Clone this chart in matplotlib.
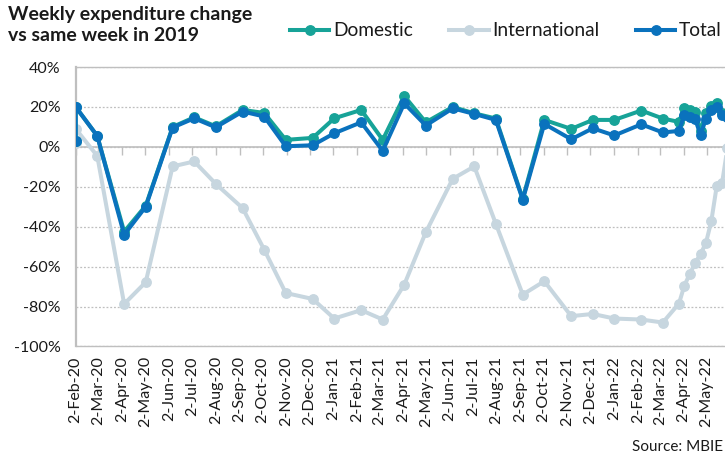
import matplotlib.pyplot as plt
import matplotlib.dates as mdates
import pandas as pd

plt.rcParams['font.family'] = ['Lato', 'DejaVu Sans']

# data: first Sunday of each month, then weekly from late March 2022
dates = pd.to_datetime([
    '2020-02-02', '2020-02-02', '2020-03-01', '2020-04-05', '2020-05-03',
    '2020-06-07', '2020-07-05', '2020-08-02', '2020-09-06', '2020-10-04',
    '2020-11-01', '2020-12-06', '2021-01-03', '2021-02-07', '2021-03-07',
    '2021-04-04', '2021-05-02', '2021-06-06', '2021-07-04', '2021-08-01',
    '2021-09-05', '2021-10-03', '2021-11-07', '2021-12-05', '2022-01-02',
    '2022-02-06', '2022-03-06', '2022-03-27', '2022-04-03', '2022-04-10',
    '2022-04-17', '2022-04-24', '2022-05-01', '2022-05-08', '2022-05-15',
    '2022-05-22', '2022-05-29',
])
domestic = [3, 20, 5.5, -42.5, -29.5, 10, 14.8, 10.3, 18.5, 17, 3.5, 4.5,
            14.3, 18.5, 3.5, 25.5, 12.3, 20, 16.8, 14.2, -26, 13.5, 9, 13.5,
            13.5, 18.2, 14.2, 12.5, 19.5, 18.5, 17.5, 8, 17, 20.5, 21.8, 17, 16]
international = [2, 9, -4.5, -78.7, -67.8, -9.8, -7.3, -18.5, -30.7, -51.5, -73.2, -76.2,
                 -86, -81.8, -86.5, -69, -42.8, -16, -9.8, -38.5, -74, -67.3, -84.8, -83.7,
                 -86, -86.5, -88, -78.5, -69.5, -63.7, -58.2, -53.7, -48.2, -37.3, -19.8,
                 -18.2, -0.5]
total = [3, 20, 5.5, -44, -30, 9.7, 14.3, 9.8, 17.7, 15.2, 0.3, 0.8,
         6.8, 12.3, -2, 21.8, 10.7, 19.3, 16.5, 13.5, -26.5, 11.5, 3.8, 9.3,
         5.7, 11.3, 7.2, 8, 16, 15, 14, 6, 14, 18.5, 20, 16, 15]

tick_dates = pd.date_range('2020-02-02', '2022-05-02', freq=pd.DateOffset(months=1))
tick_labels = [f"{d.day}-{d.strftime('%b-%y')}" for d in tick_dates]
y_ticks = list(range(-100, 41, 20))

c_dom = '#17A398'
c_int = '#C7D6DF'
c_tot = '#0A72BD'
grid_c = '#BFBFBF'
text_c = '#1A1A1A'

fig = plt.figure(figsize=(7.25, 4.55), dpi=100)
ax = fig.add_axes([0.1044, 0.2385, 0.9064, 0.6142])

l_int, = ax.plot(dates, international, color=c_int, lw=2.9, marker='o', ms=6.8, zorder=3, label='International')
l_dom, = ax.plot(dates, domestic, color=c_dom, lw=2.9, marker='o', ms=6.8, zorder=4, label='Domestic')
l_tot, = ax.plot(dates, total, color=c_tot, lw=2.9, marker='o', ms=6.8, zorder=5, label='Total')

ax.set_xlim(pd.Timestamp('2020-02-02'), pd.Timestamp('2022-06-05'))
ax.set_ylim(-100, 40)
ax.set_yticks(y_ticks)
ax.set_yticklabels([f"{v}%" for v in y_ticks])
ax.set_xticks(mdates.date2num(tick_dates))
ax.set_xticklabels(tick_labels, rotation=90)

ax.yaxis.grid(True, linestyle=(0, (1.5, 1.5)), color=grid_c, lw=0.9, zorder=0)
ax.tick_params(axis='y', length=0, pad=11, labelsize=11.5, labelcolor=text_c)
ax.tick_params(axis='x', length=0, pad=7, labelsize=11.5, labelcolor=text_c)

for s in ['left', 'top', 'bottom']:
    ax.spines[s].set_color(grid_c)
ax.spines['left'].set_linewidth(1.6)
ax.spines['top'].set_linewidth(1.0)
ax.spines['bottom'].set_linewidth(1.0)
ax.spines['right'].set_visible(False)

# zero line with monthly tick marks
zero = ax.secondary_xaxis(100 / 140)
zero.set_xticks(mdates.date2num(tick_dates))
zero.set_xticklabels([])
zero.tick_params(direction='in', length=6, width=1.0, color=grid_c)
for s in zero.spines.values():
    s.set_color(grid_c)
    s.set_linewidth(1.2)

fig.text(8 / 725, 1 - 6 / 455, "Weekly expenditure change\nvs same week in 2019",
         fontsize=14, fontweight='bold', color=text_c, va='top', ha='left', linespacing=1.3)

fig.legend(handles=[l_dom, l_int, l_tot], loc='center left',
           bbox_to_anchor=(290 / 725, 1 - 31 / 455), ncol=3, frameon=False,
           fontsize=13.8, handlelength=2.05, handletextpad=0.2, columnspacing=1.9,
           borderaxespad=0, borderpad=0, labelcolor=text_c)

fig.text(723 / 725, 1 - 447 / 455, "Source: MBIE", fontsize=11, color=text_c,
         ha='right', va='center')

fig.savefig('out.png', dpi=100)
